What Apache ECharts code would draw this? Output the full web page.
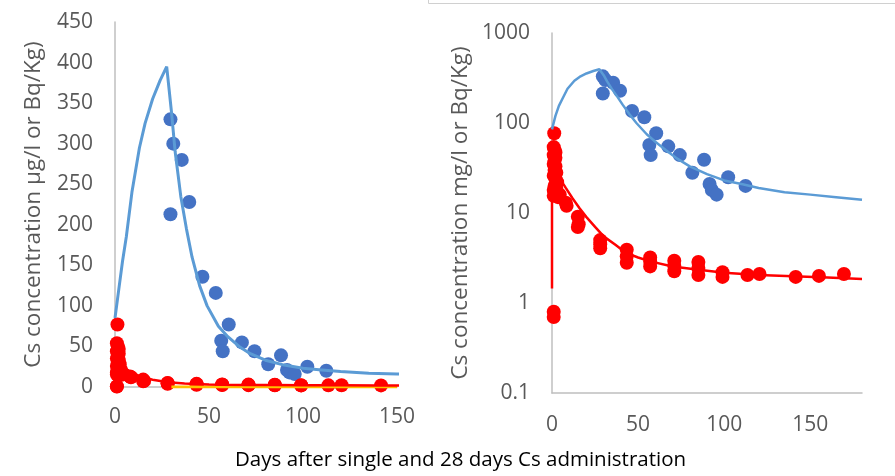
<!DOCTYPE html>
<html>
<head>
<meta charset="utf-8">
<title>Cs concentration</title>
<script src="https://cdn.jsdelivr.net/npm/echarts@6/dist/echarts.min.js"></script>
<style>
  html, body { margin: 0; padding: 0; background: #fff; }
  #chart { width: 895px; height: 476px; }
</style>
</head>
<body>
<div id="chart"></div>
<script>
  // model curve, 28 days administration (day, value)
  const repeatModel = [
    [0, 85], [2, 120], [4, 155], [6, 185], [9, 240], [13, 295], [16, 325], [20, 355],
    [24, 378], [27.5, 395], [30, 340], [32, 290], [35, 235], [38, 195], [41, 160],
    [45, 125], [49, 100], [55, 75], [60, 62], [66, 50], [72, 41], [80, 33], [90, 27],
    [100, 23], [110, 21], [120, 19], [135, 17], [150, 16], [165, 15], [180, 14]
  ];
  // model curve, single administration
  const singleModel = [
    [0, 1.45], [0, 30], [4, 25], [8, 19], [12, 14.5], [16, 11.3], [20, 9], [25, 7],
    [30, 5.5], [37, 4.4], [43, 3.6], [50, 3.2], [57, 2.9], [70, 2.55], [84, 2.35],
    [100, 2.17], [120, 2.05], [140, 1.98], [160, 1.92], [180, 1.85]
  ];
  // yellow line near zero (left panel only)
  const baseLine = [[30, 0], [150, 0]];
  // measured, 28 days administration
  const repeatObs = [
    [29.5, 330], [31, 300], [35.5, 280], [39.5, 228], [29.5, 213], [46.5, 136],
    [53.6, 116], [60.5, 77], [56.5, 57], [57.3, 44], [67.5, 55], [74.2, 44],
    [81.5, 28], [88.3, 39], [91.5, 21], [92.8, 18], [95.6, 16], [102.3, 25], [112.4, 20]
  ];
  // measured, single administration
  const singleObs = [
    [1.3, 77], [1, 54], [1.5, 50], [2, 47], [1, 44], [2, 41], [1.5, 38], [1, 35],
    [2, 33], [1.5, 30], [2.5, 28], [1, 26], [2, 24], [3, 22], [1.5, 20], [2.5, 19],
    [1, 18], [3, 17], [2, 16], [1, 15.5], [3.5, 15], [4.5, 16],
    [1, 0.8], [1, 0.7],
    [8, 13], [8.5, 12], [15, 9.1], [15.5, 7.5], [15, 7],
    [28, 5], [28, 4.5], [28, 4.05],
    [43.4, 3.9], [43.4, 3.3], [43.4, 2.8],
    [57, 3.2], [57, 2.9], [57, 2.55],
    [71, 2.95], [71, 2.6], [71, 2.25],
    [85, 2.85], [85, 2.45], [85, 2.05],
    [99, 2.2], [99, 1.95],
    [113.5, 2.05], [120.5, 2.1], [141.5, 1.95], [155, 2.0], [169.5, 2.1]
  ];
  const xTicks = [0, 50, 150];
  const linTicks = [0, 450, 50];
  const logTicks = [0.1, 1000];

  const grey = '#595959';
  const axisGrey = '#BFBFBF';
  const font = '"Open Sans", sans-serif';

  function xAxisOf(idx, max, margin) {
    return {
      type: 'value', gridIndex: idx, min: xTicks[0], max: max, interval: xTicks[1],
      axisLine: { show: true, lineStyle: { color: axisGrey, width: 1.5 } },
      axisTick: { show: false },
      splitLine: { show: false },
      axisLabel: { color: grey, fontSize: 21, fontFamily: font, margin: margin, showMaxLabel: max === xTicks[2] }
    };
  }

  let myChart = echarts.init(document.getElementById('chart'));
  myChart.setOption({
    animation: false,
    textStyle: { fontFamily: font },
    grid: [
      { left: 115, top: 22, width: 282, height: 365 },
      { left: 552, top: 33, width: 310, height: 360 }
    ],
    xAxis: [xAxisOf(0, 150, 20), xAxisOf(1, 180, 22)],
    yAxis: [
      {
        type: 'value', gridIndex: 0, min: linTicks[0], max: linTicks[1], interval: linTicks[2],
        name: 'Cs concentration µg/l or Bq/Kg)', nameLocation: 'middle', nameGap: 70,
        nameTextStyle: { color: grey, fontSize: 22.5, fontFamily: font },
        axisLine: { show: true, lineStyle: { color: axisGrey, width: 1.5 } },
        axisTick: { show: false },
        splitLine: { show: false },
        axisLabel: { color: grey, fontSize: 21, fontFamily: font, margin: 22 }
      },
      {
        type: 'log', gridIndex: 1, logBase: 10, min: logTicks[0], max: logTicks[1],
        name: 'Cs concentration mg/l or Bq/Kg)', nameLocation: 'middle', nameGap: 80,
        nameTextStyle: { color: grey, fontSize: 22.5, fontFamily: font },
        axisLine: { show: true, lineStyle: { color: axisGrey, width: 1.5 } },
        axisTick: { show: false },
        splitLine: { show: false },
        axisLabel: {
          color: grey, fontSize: 21, fontFamily: font, margin: 22,
          formatter: function (v) { return String(v); }
        }
      }
    ],
    graphic: [
      {
        type: 'rect', shape: { x: 428.5, y: -10, width: 480, height: 13.5 },
        style: { fill: 'none', stroke: '#D0D0D0', lineWidth: 1 }
      },
      {
        type: 'text', left: 235, top: 450,
        style: { text: 'Days after single and 28 days Cs administration', fill: '#000', fontSize: 20.5, fontFamily: font }
      }
    ],
    series: [
      // left panel
      { type: 'line', xAxisIndex: 0, yAxisIndex: 0, data: repeatModel, showSymbol: false, lineStyle: { color: '#5B9BD5', width: 3 } },
      { type: 'line', xAxisIndex: 0, yAxisIndex: 0, data: baseLine, showSymbol: false, lineStyle: { color: '#FFC000', width: 3 } },
      { type: 'line', xAxisIndex: 0, yAxisIndex: 0, data: singleModel, showSymbol: false, lineStyle: { color: '#FF0000', width: 2.5 } },
      { type: 'scatter', xAxisIndex: 0, yAxisIndex: 0, data: repeatObs, symbolSize: 14, itemStyle: { color: '#4472C4', opacity: 1 } },
      { type: 'scatter', xAxisIndex: 0, yAxisIndex: 0, data: singleObs, symbolSize: 14, itemStyle: { color: '#FF0000', opacity: 1 } },
      // right panel
      { type: 'line', xAxisIndex: 1, yAxisIndex: 1, data: repeatModel, showSymbol: false, lineStyle: { color: '#5B9BD5', width: 2.5 } },
      { type: 'line', xAxisIndex: 1, yAxisIndex: 1, data: singleModel, showSymbol: false, lineStyle: { color: '#FF0000', width: 2.5 } },
      { type: 'scatter', xAxisIndex: 1, yAxisIndex: 1, data: repeatObs, symbolSize: 14, itemStyle: { color: '#4472C4', opacity: 1 } },
      { type: 'scatter', xAxisIndex: 1, yAxisIndex: 1, data: singleObs, symbolSize: 14, itemStyle: { color: '#FF0000', opacity: 1 } }
    ]
  });
</script>
</body>
</html>
